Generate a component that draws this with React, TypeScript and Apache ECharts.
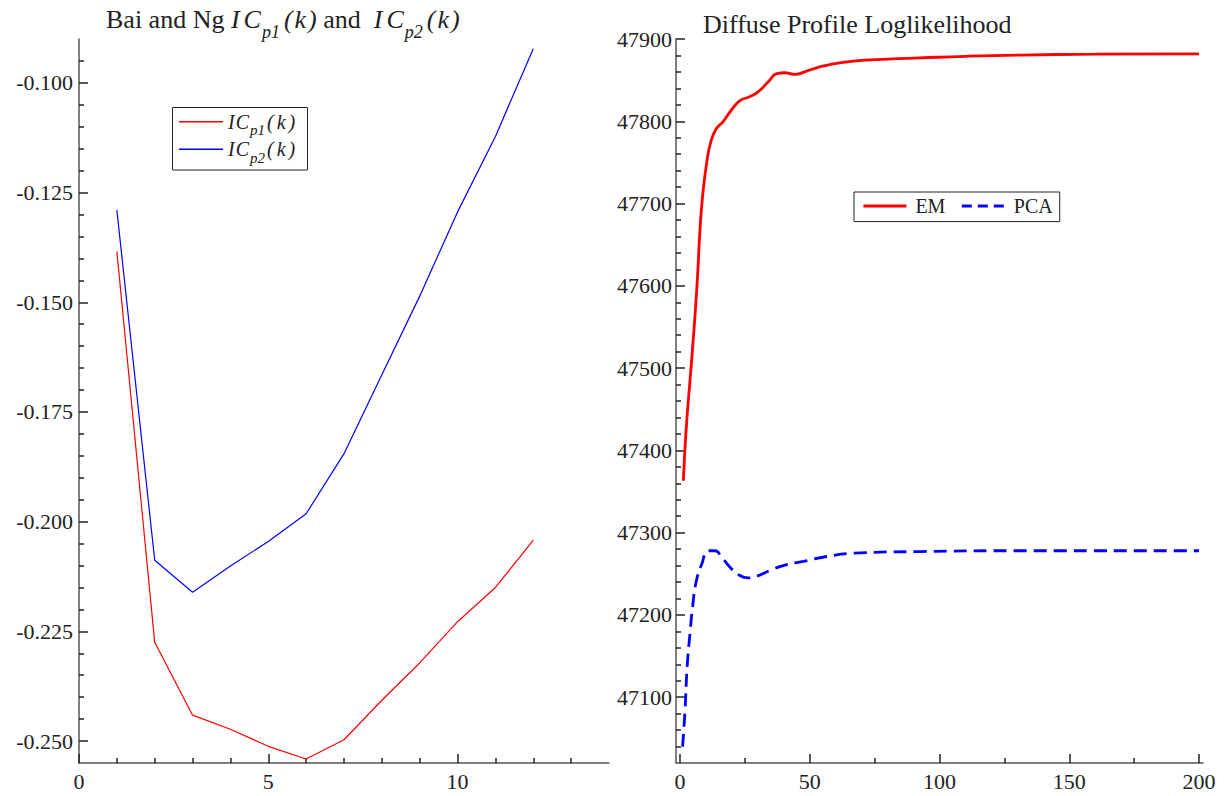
import React, { useEffect, useRef } from 'react';
import * as echarts from 'echarts';

// ---------- Data ----------
const kValues = [1, 2, 3, 4, 5, 6, 7, 8, 9, 10, 11, 12];
const icp1Values = [-0.1384, -0.2275, -0.2441, -0.2473, -0.2512, -0.2541, -0.2497, -0.2407, -0.2322, -0.2228, -0.215, -0.2042];
const icp2Values = [-0.129, -0.2088, -0.2161, -0.2101, -0.2045, -0.1982, -0.1845, -0.1665, -0.1486, -0.1294, -0.1122, -0.0922];

const emIterations = [1.3, 2.3, 3.9, 5.4, 6.7, 7.7, 8.8, 10.3, 11.8, 13.8, 16.7, 19.9, 23.1, 27, 30.2, 34, 37.3, 40.5, 44.3, 48.8, 52.7, 57.8, 66.8, 80, 92.5, 110, 131, 160, 200];
const emLogLik = [47363, 47422, 47487, 47547, 47608, 47668, 47712, 47750, 47774, 47790, 47800, 47814, 47825, 47830, 47836, 47848, 47858, 47859, 47857, 47861, 47865, 47869, 47873, 47875.5, 47877, 47879, 47880.5, 47881.5, 47882];

const pcaIterations = [1.0, 1.9, 2.8, 3.9, 4.9, 6.2, 8.4, 10.9, 13.5, 16.1, 19.3, 22.5, 26.3, 29.5, 34.7, 39.8, 47.5, 56.5, 66.8, 92.5, 131, 200];
const pcaLogLik = [47040, 47082, 47139, 47179, 47211, 47240, 47262, 47278, 47278, 47270, 47258, 47249, 47245, 47247, 47254, 47260, 47265, 47271, 47275, 47277, 47278, 47278];

// ---------- Ticks ----------
const leftXMajor = [0, 5, 10];
const leftXMinor = [1, 2, 3, 4, 6, 7, 8, 9, 11, 12, 13];
const leftYMajor = [-0.25, -0.225, -0.2, -0.175, -0.15, -0.125, -0.1];
const leftYMinor = [-0.245, -0.24, -0.235, -0.23, -0.22, -0.215, -0.21, -0.205, -0.195, -0.19, -0.185, -0.18, -0.17, -0.165, -0.16, -0.155, -0.145, -0.14, -0.135, -0.13, -0.12, -0.115, -0.11, -0.105, -0.095];
const rightXMajor = [0, 50, 100, 150, 200];
const rightXMinor = [25, 75, 125, 175];
const rightYMajor = [47100, 47200, 47300, 47400, 47500, 47600, 47700, 47800, 47900];
const rightYMinor = [
  47040, 47060, 47080, 47120, 47140, 47160, 47180, 47220, 47240, 47260, 47280,
  47320, 47340, 47360, 47380, 47420, 47440, 47460, 47480, 47520, 47540, 47560, 47580,
  47620, 47640, 47660, 47680, 47720, 47740, 47760, 47780, 47820, 47840, 47860, 47880,
];

const RED = '#ff0000';
const BLUE = '#0000ff';
const serif = 'Liberation Serif';
const textColor = '#222';
const axisLineStyle = { color: '#555', width: 1.5 };
const tickLineStyle = { color: '#222', width: 1.5 };

function majorAxis(gridIndex: number, min: number, max: number, majors: number[], pos: string, margin: number, fmt: (v: number) => string) {
  return {
    gridIndex,
    type: 'value',
    position: pos,
    min,
    max,
    axisLine: { show: true, onZero: false, lineStyle: axisLineStyle },
    axisTick: { show: true, inside: true, length: 9, customValues: majors, lineStyle: tickLineStyle },
    axisLabel: {
      show: true,
      customValues: majors,
      margin,
      fontFamily: serif,
      fontSize: 22,
      fontWeight: 'normal',
      color: textColor,
      formatter: fmt,
    },
    splitLine: { show: false },
  };
}

function minorAxis(gridIndex: number, min: number, max: number, minors: number[], pos: string) {
  return {
    gridIndex,
    type: 'value',
    position: pos,
    min,
    max,
    axisLine: { show: false, onZero: false },
    axisTick: { show: true, inside: true, length: 5, customValues: minors, lineStyle: tickLineStyle },
    axisLabel: { show: false },
    splitLine: { show: false },
  };
}

const plain = (v: number) => String(v);

const tBase = { fontFamily: serif, fontWeight: 'normal', color: textColor };
const titleRich = {
  n: { ...tBase, fontSize: 26, lineHeight: 32 },
  I: { ...tBase, fontSize: 26, fontStyle: 'italic', lineHeight: 32, padding: [0, 4, 0, 0] },
  C: { ...tBase, fontSize: 26, fontStyle: 'italic', lineHeight: 32, padding: [0, 1, 0, 0] },
  i: { ...tBase, fontSize: 26, fontStyle: 'italic', lineHeight: 32 },
  k: { ...tBase, fontSize: 26, fontStyle: 'italic', lineHeight: 32, padding: [0, 2, 0, 2] },
  s: { ...tBase, fontSize: 18, fontStyle: 'italic', lineHeight: 32, padding: [26, 4, 0, 0] },
};

const legendRich = {
  I: { ...tBase, fontSize: 20, fontStyle: 'italic', lineHeight: 24, padding: [0, 1, 0, 0] },
  i: { ...tBase, fontSize: 20, fontStyle: 'italic', lineHeight: 24 },
  k: { ...tBase, fontSize: 20, fontStyle: 'italic', lineHeight: 24, padding: [0, 3, 0, 3] },
  s: { ...tBase, fontSize: 15, fontStyle: 'italic', lineHeight: 24, padding: [18, 2, 0, 1] },
};

function icLegend(name: string, sub: string, top: number) {
  return {
    data: [{ name, icon: 'rect', itemStyle: { opacity: 0, borderWidth: 0 } }],
    orient: 'vertical',
    left: 179,
    top,
    padding: 0,
    itemWidth: 44,
    itemHeight: 1.2,
    formatter: () => `{I|I}{i|C}{s|${sub}}{i|(}{k|k}{i|)}`,
    textStyle: { rich: legendRich },
  };
}

export default function App() {
  const ref = useRef<HTMLDivElement>(null);
  useEffect(() => {
    if (!ref.current) return;
    const chart = echarts.init(ref.current, null, { renderer: 'svg' });
    const option: any = {
      animation: false,
      backgroundColor: '#ffffff',
      title: [
        {
          text: '{n|Bai and Ng }{I|I}{C|C}{s|p1}{i|(}{k|k}{i|)}{n| and  }{I|I}{C|C}{s|p2}{i|(}{k|k}{i|)}',
          left: 106,
          top: 3,
          padding: 0,
          textStyle: { fontWeight: 'normal', rich: titleRich },
        },
        {
          text: 'Diffuse Profile Loglikelihood',
          left: 703,
          top: 8,
          padding: 0,
          textStyle: { fontFamily: serif, fontSize: 26, fontWeight: 'normal', color: textColor, lineHeight: 32 },
        },
      ],
      graphic: [
        {
          type: 'rect',
          shape: { x: 172.5, y: 107.5, width: 135, height: 62.5 },
          style: { fill: 'none', stroke: '#222', lineWidth: 1 },
          z: 10,
        },
        {
          type: 'line',
          shape: { x1: 179, y1: 121.7, x2: 223, y2: 121.7 },
          style: { stroke: RED, lineWidth: 1.4 },
          z: 100,
        },
        {
          type: 'line',
          shape: { x1: 179, y1: 149.3, x2: 223, y2: 149.3 },
          style: { stroke: BLUE, lineWidth: 1.4 },
          z: 100,
        },
      ],
      legend: [
        icLegend('ICp1', 'p1', 105),
        icLegend('ICp2', 'p2', 132.6),
        {
          data: [
            { name: 'EM', lineStyle: { color: RED, width: 2.8 }, itemStyle: { opacity: 0 } },
            { name: 'PCA', lineStyle: { color: BLUE, width: 2.8, type: [10, 6] }, itemStyle: { opacity: 0 } },
          ],
          orient: 'horizontal',
          left: 854,
          top: 192,
          padding: [3, 7, 4.6, 8],
          itemGap: 15,
          itemWidth: 43,
          itemHeight: 14,
          borderColor: '#222',
          borderWidth: 1,
          textStyle: { fontFamily: serif, fontSize: 20, fontWeight: 'normal', color: textColor, lineHeight: 22, padding: [0, 0, 0, 4] },
        },
      ],
      grid: [
        { left: 79, right: 623, top: 39, bottom: 33 },
        { left: 676, right: 29, top: 39, bottom: 33 },
      ],
      xAxis: [
        majorAxis(0, 0, 14, leftXMajor, 'bottom', 7, plain),
        minorAxis(0, 0, 14, leftXMinor, 'bottom'),
        majorAxis(1, -1.54, 201.54, rightXMajor, 'bottom', 7, plain),
        minorAxis(1, -1.54, 201.54, rightXMinor, 'bottom'),
      ],
      yAxis: [
        majorAxis(0, -0.255, -0.09, leftYMajor, 'left', 6, (v: number) => v.toFixed(3)),
        minorAxis(0, -0.255, -0.09, leftYMinor, 'left'),
        majorAxis(1, 47020, 47900, rightYMajor, 'left', 4, plain),
        minorAxis(1, 47020, 47900, rightYMinor, 'left'),
      ],
      series: [
        {
          name: 'ICp1',
          type: 'line',
          xAxisIndex: 0,
          yAxisIndex: 0,
          data: kValues.map((k, i) => [k, icp1Values[i]]),
          symbol: 'none',
          showSymbol: false,
          lineStyle: { color: RED, width: 1.2 },
          itemStyle: { color: RED },
        },
        {
          name: 'ICp2',
          type: 'line',
          xAxisIndex: 0,
          yAxisIndex: 0,
          data: kValues.map((k, i) => [k, icp2Values[i]]),
          symbol: 'none',
          showSymbol: false,
          lineStyle: { color: BLUE, width: 1.2 },
          itemStyle: { color: BLUE },
        },
        {
          name: 'EM',
          type: 'line',
          xAxisIndex: 2,
          yAxisIndex: 2,
          data: emIterations.map((x, i) => [x, emLogLik[i]]),
          symbol: 'none',
          showSymbol: false,
          smooth: 0.5,
          lineStyle: { color: RED, width: 2.8 },
          itemStyle: { color: RED },
        },
        {
          name: 'PCA',
          type: 'line',
          xAxisIndex: 2,
          yAxisIndex: 2,
          data: pcaIterations.map((x, i) => [x, pcaLogLik[i]]),
          symbol: 'none',
          showSymbol: false,
          smooth: 0.5,
          lineStyle: { color: BLUE, width: 2.8, type: [13, 7] },
          itemStyle: { color: BLUE },
        },
      ],
    };
    chart.setOption(option);
    return () => chart.dispose();
  }, []);
  return (
    <div
      ref={ref}
      style={{ position: 'fixed', left: 0, top: 0, width: 1232, height: 796, background: '#fff' }}
    />
  );
}
